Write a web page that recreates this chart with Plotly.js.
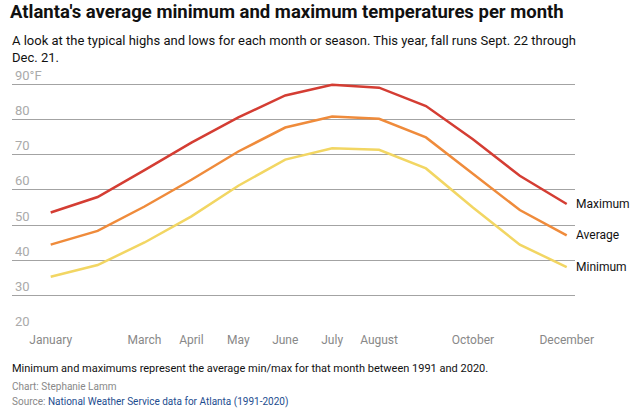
<!DOCTYPE html>
<html>
<head>
<meta charset="utf-8">
<script src="https://cdn.plot.ly/plotly-3.0.1.min.js"></script>
<style>html,body{margin:0;padding:0;background:#fff;}#chart{width:640px;height:416px;}</style>
</head>
<body>
<div id="chart"></div>
<script>
const months = ["January","February","March","April","May","June","July","August","September","October","November","December"];
const tickLabels = ["January","","March","April","May","June","July","August","","October","","December"];
const maxTemps = [53.6, 58.0, 65.6, 73.4, 80.6, 86.8, 89.8, 89.0, 83.8, 74.4, 64.0, 56.0];
const avgTemps = [44.5, 48.4, 55.3, 62.9, 70.9, 77.7, 80.8, 80.2, 74.9, 64.7, 54.3, 47.1];
const minTemps = [35.4, 38.7, 45.1, 52.5, 61.2, 68.6, 71.8, 71.4, 66.1, 55.0, 44.5, 38.1];
const yTickVals = [20, 30, 40, 50, 60, 70, 80, 90];
const yTickText = ["20", "30", "40", "50", "60", "70", "80", "90°F"];
const seriesNames = ["Maximum", "Average", "Minimum"];

const FONT = "Roboto, 'Noto Sans', sans-serif";
const colors = ["#d43d33", "#ef8b3b", "#f2d663"];
const series = [maxTemps, avgTemps, minTemps];
const idx = months.map((m, i) => i);

const traces = series.map((vals, k) => ({
  x: idx, y: vals, type: "scatter", mode: "lines",
  name: seriesNames[k], line: {color: colors[k], width: 2.5},
  hoverinfo: "skip"
}));

const W = 640, H = 416, L = 12, R = 65, T = 63, B = 85;
const pw = W - L - R, ph = H - T - B;
const px = (x) => (x - L) / pw;
const py = (y) => (H - B - y) / ph;

const annotations = series.map((vals, k) => ({
  x: 11, y: vals[11], xref: "x", yref: "y", text: seriesNames[k],
  showarrow: false, xanchor: "left", yanchor: "middle", xshift: 7,
  font: {family: FONT, size: 12, color: "#111"}
}));

annotations.push({
  xref: "paper", yref: "paper", x: px(10), y: py(31), xanchor: "left", yanchor: "top", align: "left",
  text: "A look at the typical highs and lows for each month or season. This year, fall runs Sept. 22 through<br>Dec. 21.",
  showarrow: false, font: {family: FONT, size: 13, color: "#111"}
});
annotations.push({
  xref: "paper", yref: "paper", x: px(10), y: py(368), xanchor: "left", yanchor: "middle", align: "left",
  text: "Minimum and maximums represent the average min/max for that month between 1991 and 2020.",
  showarrow: false, font: {family: FONT, size: 11, color: "#111"}
});
annotations.push({
  xref: "paper", yref: "paper", x: px(10), y: py(386), xanchor: "left", yanchor: "middle", align: "left",
  text: "Chart: Stephanie Lamm",
  showarrow: false, font: {family: FONT, size: 10, color: "#888"}
});
annotations.push({
  xref: "paper", yref: "paper", x: px(10), y: py(402), xanchor: "left", yanchor: "middle", align: "left",
  text: "Source: <span style='color:#1d4d8f'>National Weather Service data for Atlanta (1991-2020)</span>",
  showarrow: false, font: {family: FONT, size: 10, color: "#888"}
});

const layout = {
  width: W, height: H,
  margin: {l: L, r: R, t: T, b: B},
  paper_bgcolor: "#fff", plot_bgcolor: "#fff",
  showlegend: false,
  title: {
    text: "<b>Atlanta's average minimum and maximum temperatures per month</b>",
    x: 10 / W, xanchor: "left", xref: "container",
    y: 1 - 5 / H, yanchor: "top", yref: "container",
    font: {family: FONT, size: 18.5, color: "#111"}
  },
  xaxis: {
    range: [-0.825, 11.177], tickvals: idx, ticktext: tickLabels,
    showgrid: false, zeroline: false, showline: false, ticks: "",
    tickfont: {family: FONT, size: 12, color: "#888"}, fixedrange: true
  },
  yaxis: {
    range: [20, 96], tickvals: yTickVals, ticktext: yTickText,
    showgrid: true, gridcolor: "#a3a3a3", gridwidth: 1, zeroline: false, showline: false,
    ticks: "", ticklabelposition: "inside top",
    tickfont: {family: FONT, size: 13, color: "#aaa"}, fixedrange: true
  },
  annotations: annotations
};

Plotly.newPlot("chart", traces, layout, {displayModeBar: false, staticPlot: true});
</script>
</body>
</html>
